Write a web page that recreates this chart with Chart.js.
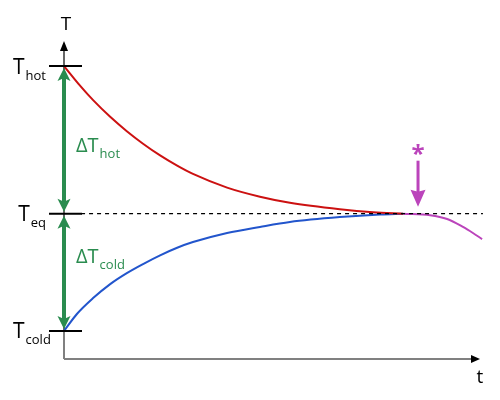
<!DOCTYPE html>
<html><head><meta charset="utf-8">
<script src="https://cdn.jsdelivr.net/npm/chart.js@4"></script>
<style>html,body{margin:0;padding:0;background:#fff}</style>
</head><body>
<canvas id="c" width="500" height="400"></canvas>
<script>
// Data (time and temperature in arbitrary units)
const hotTimes   = [0, 0.38, 0.70, 1.11, 1.51, 1.90, 2.31, 2.72, 3.10, 3.92, 4.71, 5.43, 6.63, 7.43, 8.15];
const hotTemps   = [90, 84.9, 81.0, 76.6, 72.8, 69.5, 66.4, 63.7, 61.5, 57.9, 55.5, 53.9, 52.2, 51.4, 51.0];
const coldTimes  = [0, 0.31, 0.70, 1.11, 1.51, 1.90, 2.31, 2.72, 3.10, 3.92, 4.71, 5.43, 6.63, 7.60, 8.15];
const coldTemps  = [20, 24.5, 28.7, 32.4, 35.3, 37.7, 40.0, 42.0, 43.5, 45.9, 47.5, 48.8, 50.1, 50.8, 51.0];
const dropTimes  = [8.15, 8.80, 9.21, 9.59, 9.83, 10.05];
const dropTemps  = [51.0, 50.6, 49.6, 47.5, 45.9, 44.3];
const eqLineTimes = [0.41, 10.07];
const tickValues = [90, 51, 20];
const tickMain   = ['T', 'T', 'T'];
const tickSub    = ['hot', 'eq', 'cold'];
const deltaFrom  = [90, 51];
const deltaTo    = [51, 20];
const deltaSub   = ['hot', 'cold'];
const markerTime = 8.51;
const xAxisEnd = 10;

const T_EQ = tickValues[1];
const pts = (xs, ys) => xs.map((x, i) => ({x, y: ys[i]}));

const GREEN = '#2a8c4f', RED = '#cc1111', BLUE = '#2255cc', MAG = '#bb44bb';
const FONT = '"Open Sans", "DejaVu Sans", sans-serif';

function arrowHead(ctx, x, y, ang, len, half, notch) {
  ctx.save();
  ctx.translate(x, y); ctx.rotate(ang);
  ctx.beginPath();
  ctx.moveTo(0, 0);
  ctx.lineTo(-len, -half);
  ctx.lineTo(-len + notch, 0);
  ctx.lineTo(-len, half);
  ctx.closePath();
  ctx.fill();
  ctx.restore();
}

const decor = {
  id: 'decor',
  beforeDatasetsDraw(chart) {
    const ctx = chart.ctx, xs = chart.scales.x, ys = chart.scales.y;
    const x0 = xs.getPixelForValue(0);
    const yb = ys.bottom;
    ctx.save();
    const xEnd = xs.getPixelForValue(xAxisEnd);
    ctx.strokeStyle = '#808080'; ctx.lineWidth = 2;
    ctx.beginPath(); ctx.moveTo(x0, yb); ctx.lineTo(xEnd - 6, yb); ctx.stroke();
    ctx.fillStyle = '#000';
    arrowHead(ctx, xEnd, yb, 0, 9, 4, 0);
    const yCold = ys.getPixelForValue(tickValues[2]);
    ctx.beginPath(); ctx.moveTo(x0, yb); ctx.lineTo(x0, yCold); ctx.stroke();
    ctx.strokeStyle = '#000'; ctx.lineWidth = 1.2;
    ctx.beginPath(); ctx.moveTo(x0, yCold); ctx.lineTo(x0, ys.top + 8); ctx.stroke();
    arrowHead(ctx, x0, ys.top + 1, -Math.PI / 2, 10, 4, 0);
    ctx.restore();
  },
  afterDatasetsDraw(chart) {
    const ctx = chart.ctx, xs = chart.scales.x, ys = chart.scales.y;
    const x0 = xs.getPixelForValue(0);
    ctx.save();
    ctx.strokeStyle = GREEN; ctx.fillStyle = GREEN; ctx.lineWidth = 4;
    deltaFrom.forEach((from, i) => {
      const to = deltaTo[i];
      const ya = ys.getPixelForValue(from) + 2, yb2 = ys.getPixelForValue(to) - 2;
      ctx.beginPath(); ctx.moveTo(x0, ya + 8); ctx.lineTo(x0, yb2 - 8); ctx.stroke();
      arrowHead(ctx, x0, ya, -Math.PI / 2, 13, 6.5, 3);
      arrowHead(ctx, x0, yb2, Math.PI / 2, 13, 6.5, 3);
      const yTop = ys.getPixelForValue(from);
      ctx.textBaseline = 'alphabetic'; ctx.textAlign = 'left';
      ctx.font = '20px ' + FONT;
      const main = '\u0394T';
      const base = i === 0 ? yTop + 86 : yTop + 49;
      ctx.fillText(main, x0 + 12, base);
      const w = ctx.measureText(main).width;
      ctx.font = '13px ' + FONT;
      ctx.fillText(deltaSub[i], x0 + 12 + w + 1, base + 6);
    });
    ctx.strokeStyle = '#000'; ctx.fillStyle = '#000'; ctx.lineWidth = 2;
    tickValues.forEach((v, i) => {
      const y = ys.getPixelForValue(v);
      ctx.beginPath(); ctx.moveTo(x0 - 15, y); ctx.lineTo(x0 + 18, y); ctx.stroke();
      ctx.textAlign = 'left'; ctx.textBaseline = 'alphabetic';
      ctx.font = '21px ' + FONT;
      const mw = ctx.measureText(tickMain[i]).width;
      ctx.font = '13px ' + FONT;
      const sw = ctx.measureText(tickSub[i]).width;
      const sx = Math.max(13, x0 - 19 - mw - sw);
      ctx.font = '21px ' + FONT;
      ctx.fillText(tickMain[i], sx, y + 7.5);
      ctx.font = '13px ' + FONT;
      ctx.fillText(tickSub[i], sx + mw + 1, y + 13.5);
    });
    ctx.font = '19px ' + FONT; ctx.textAlign = 'center'; ctx.textBaseline = 'middle';
    ctx.fillText('T', x0 + 2, 25);
    ctx.fillText('t', xs.getPixelForValue(xAxisEnd), 378);
    const mx = xs.getPixelForValue(markerTime);
    const my = ys.getPixelForValue(T_EQ) - 7;
    ctx.strokeStyle = MAG; ctx.fillStyle = MAG; ctx.lineWidth = 3;
    ctx.beginPath(); ctx.moveTo(mx, my - 46); ctx.lineTo(mx, my - 14); ctx.stroke();
    arrowHead(ctx, mx, my, Math.PI / 2, 17, 7.5, 2);
    ctx.font = 'bold 24px ' + FONT;
    ctx.textAlign = 'center'; ctx.textBaseline = 'middle';
    ctx.fillText('*', mx, my - 52);
    ctx.restore();
  }
};

new Chart(document.getElementById('c'), {
  type: 'line',
  data: {
    datasets: [
      {data: pts(eqLineTimes, eqLineTimes.map(() => T_EQ)), borderColor: '#000', borderWidth: 1.3, borderDash: [4, 4], pointRadius: 0, tension: 0},
      {data: pts(hotTimes, hotTemps), borderColor: RED, borderWidth: 2, pointRadius: 0, cubicInterpolationMode: 'monotone'},
      {data: pts(coldTimes, coldTemps), borderColor: BLUE, borderWidth: 2, pointRadius: 0, cubicInterpolationMode: 'monotone'},
      {data: pts(dropTimes, dropTemps), borderColor: MAG, borderWidth: 2, pointRadius: 0, cubicInterpolationMode: 'monotone'}
    ]
  },
  options: {
    responsive: false,
    animation: false,
    layout: {padding: {left: 64, right: 15, top: 40, bottom: 41}},
    plugins: {legend: {display: false}, tooltip: {enabled: false}},
    scales: {
      x: {type: 'linear', min: 0, max: 10.12, display: false},
      y: {type: 'linear', min: 12.6, max: 96.9, display: false}
    }
  },
  plugins: [decor]
});
</script>
</body></html>
